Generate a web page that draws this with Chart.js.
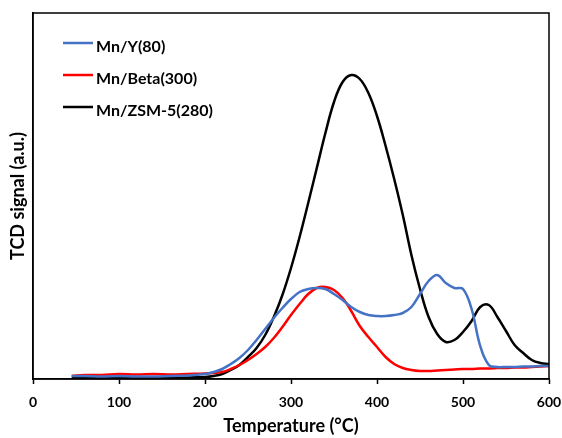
<!DOCTYPE html>
<html>
<head>
<meta charset="utf-8">
<script src="https://cdn.jsdelivr.net/npm/chart.js@4"></script>
<style>
  html, body { margin: 0; padding: 0; background: #fff; }
  #wrap { width: 562px; height: 438px; }
</style>
</head>
<body>
<div id="wrap"><canvas id="tprChart" width="562" height="438"></canvas></div>
<script>
// H2-TPR profiles (arbitrary units)
const temperatures = [45, 60, 80, 100, 120, 140, 160, 180, 200, 210, 220, 230, 240, 250, 260, 270, 280, 290,
  300, 310, 320, 330, 340, 350, 360, 370, 380, 390, 400, 410, 420, 430, 440, 450, 460, 470, 480, 490,
  500, 510, 520, 530, 540, 550, 560, 570, 580, 590, 600];

const mnY = [3, 3, 2.5, 3, 2.5, 2.5, 3, 3.5, 5, 7, 10, 15, 21, 29, 39, 50, 61, 71,
  80, 87, 90, 91, 90, 85, 79, 72, 67, 64, 63, 63, 64, 66, 72, 85, 98, 104, 96, 91,
  90, 70, 33, 14, 12, 12, 12, 12.5, 12.5, 13, 13];

const mnBeta = [3, 4, 4, 5, 4.5, 5, 4.5, 5, 5.5, 6, 7, 10, 14, 19, 25, 32, 41, 52,
  64, 75, 85, 91, 92, 89, 81, 68, 53, 42, 32, 22, 15, 11, 9, 8, 8, 8.5, 9, 9.5,
  10, 10, 10.5, 10.5, 11, 11, 11.5, 11.5, 12, 12.5, 13];

const mnZsm5 = [1, 1.5, 1, 1.5, 1, 1.5, 1, 1.5, 2, 3, 5, 9, 14, 22, 31, 44, 62, 84,
  111, 142, 176, 211, 246, 277, 297, 304, 300, 286, 263, 233, 200, 164, 124, 90, 62, 45, 37, 39,
  47, 58, 72, 74, 62, 48, 34, 26, 19, 16, 15];

const xTicks = [0, 100, 200, 300, 400, 500, 600];

const seriesNames = ['Mn/Y(80)', 'Mn/Beta(300)', 'Mn/ZSM-5(280)'];
const seriesColors = ['#4472C4', '#FF0000', '#000000'];

const FONT = 'Lato, "Open Sans", sans-serif';

function toPoints(values) {
  return temperatures.map((t, i) => ({ x: t, y: values[i] }));
}

// box round the plot and legend inside the top-left corner
const framePlugin = {
  id: 'frame',
  afterDraw(chart) {
    const { ctx, chartArea: a } = chart;
    ctx.save();
    ctx.strokeStyle = '#000';
    ctx.lineWidth = 1.5;
    ctx.strokeRect(a.left, a.top, a.right - a.left, a.bottom - a.top);

    ctx.font = 'bold 16px ' + FONT;
    ctx.textBaseline = 'middle';
    ctx.fillStyle = '#000';
    const rows = [47, 79, 111];
    seriesNames.forEach((name, i) => {
      const y = rows[i];
      ctx.strokeStyle = seriesColors[i];
      ctx.lineWidth = 2.5;
      ctx.beginPath();
      ctx.moveTo(63, y - 4);
      ctx.lineTo(93, y - 4);
      ctx.stroke();
      ctx.fillText(name, 96, y);
    });
    ctx.restore();
  }
};

const ctx = document.getElementById('tprChart');

new Chart(ctx, {
  type: 'line',
  data: {
    datasets: [
      { label: seriesNames[0], data: toPoints(mnY), borderColor: seriesColors[0] },
      { label: seriesNames[1], data: toPoints(mnBeta), borderColor: seriesColors[1] },
      { label: seriesNames[2], data: toPoints(mnZsm5), borderColor: seriesColors[2] }
    ]
  },
  options: {
    responsive: false,
    animation: false,
    parsing: false,
    layout: { padding: { top: 13, right: 13, bottom: 0, left: 0 } },
    elements: {
      point: { radius: 0 },
      line: { borderWidth: 2.5, tension: 0.4, fill: false }
    },
    plugins: {
      legend: { display: false },
      tooltip: { enabled: false }
    },
    scales: {
      x: {
        type: 'linear',
        min: 0,
        max: 600,
        afterBuildTicks: (scale) => { scale.ticks = xTicks.map(v => ({ value: v })); },
        afterFit: (scale) => {
          scale.height = 59;
          scale.paddingLeft = 0;
          scale.paddingRight = 0;
        },
        ticks: {
          color: '#000',
          font: { family: FONT, size: 14, weight: 'bold' },
          padding: 10,
          maxRotation: 0
        },
        grid: {
          drawOnChartArea: false,
          drawTicks: true,
          tickLength: 5,
          tickColor: '#000',
          tickWidth: 1.5
        },
        border: { color: '#000', width: 1.5 },
        title: {
          display: true,
          text: 'Temperature (°C)',
          color: '#000',
          font: { family: FONT, size: 18, weight: 'bold' },
          padding: { top: 0, bottom: 1 }
        }
      },
      y: {
        min: 0,
        max: 366,
        afterFit: (scale) => { scale.width = 33; },
        ticks: { display: false },
        grid: { drawOnChartArea: false, drawTicks: false },
        border: { color: '#000', width: 1.5 },
        title: {
          display: true,
          text: 'TCD signal (a.u.)',
          color: '#000',
          font: { family: FONT, size: 18, weight: 'bold' },
          padding: { top: 7, bottom: 0 }
        }
      }
    }
  },
  plugins: [framePlugin]
});
</script>
</body>
</html>
